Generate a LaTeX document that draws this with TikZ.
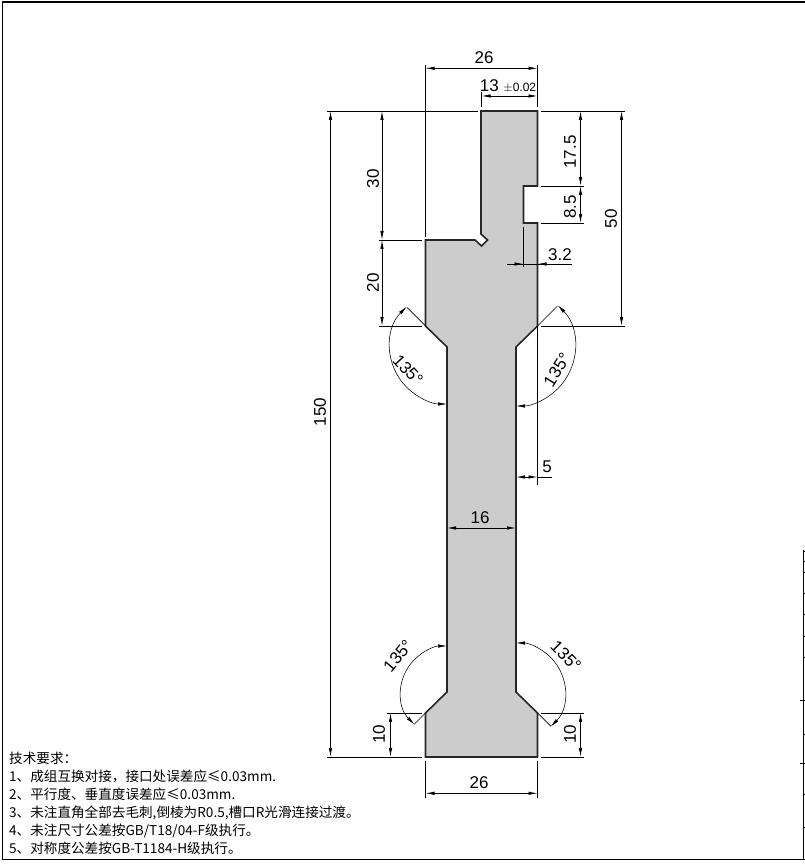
\documentclass[tikz,border=0pt]{standalone}
\usepackage{fontspec}
\setmainfont{Noto Sans CJK SC}
\setsansfont{Liberation Sans}
\usetikzlibrary{arrows.meta}
\tikzset{
  part/.style={draw=black!85, line width=1.6pt, fill=black!20, line join=miter},
  extline/.style={line width=0.7pt},
  dimline/.style={line width=0.7pt, {Latex[length=9pt,width=3.4pt]}-{Latex[length=9pt,width=3.4pt]}},
  dimtip/.style={line width=0.7pt, -{Latex[length=9pt,width=3.4pt]}},
  arcline/.style={line width=0.55pt, {Latex[length=9pt,width=3.4pt]}-{Latex[length=9pt,width=3.4pt]}},
  dimtext/.style={font=\sffamily\fontsize{17}{17}\selectfont, inner sep=0pt},
  notetext/.style={font=\fontsize{13.6}{13.6}\selectfont, inner sep=0pt, anchor=west}
}
\begin{document}
\begin{tikzpicture}[x=1pt,y=1pt]
\useasboundingbox (0,0) rectangle (805,864);
% frame
\coordinate (F1) at (2.5,4.7);
\coordinate (F2) at (2.5,862);
\coordinate (F3) at (805,862);
\coordinate (F4) at (805,4.7);
\draw[line width=1.1pt] (F3) -- (F2) -- (F1) -- (F4);
\draw[line width=1.1pt] (803.7,4.7) -- (803.7,313.5);
\foreach \y in {313,303,292,271,250,228,207,164,130,101,70,37}
  \draw[line width=0.9pt] (803.7,\y) -- (806,\y);
\foreach \y in {164,101}
  \draw[line width=0.9pt] (799.5,\y) -- (803.7,\y);
% part outline
\coordinate (A) at (481,753);
\coordinate (B) at (537.5,753);
\coordinate (C) at (537.5,678);
\coordinate (D) at (523.5,678);
\coordinate (E) at (523.5,641);
\coordinate (G) at (537.5,641);
\coordinate (H) at (537.5,538);
\coordinate (I) at (516,517);
\coordinate (J) at (516,172);
\coordinate (K) at (537.5,151);
\coordinate (L) at (537.5,107);
\coordinate (M) at (425.5,107);
\coordinate (N) at (425.5,151);
\coordinate (O) at (447,172);
\coordinate (P) at (447,517);
\coordinate (Q) at (425.5,538);
\coordinate (R) at (425.5,624);
\coordinate (S) at (475,624);
\coordinate (T) at (481.5,618);
\coordinate (U) at (487.5,624);
\coordinate (V) at (481,630);
\draw[part] (A) -- (B) -- (C) -- (D) -- (E) -- (G) -- (H) -- (I) -- (J) -- (K) -- (L)
  -- (M) -- (N) -- (O) -- (P) -- (Q) -- (R) -- (S) -- (T) -- (U) -- (V) -- cycle;
% extension lines
\draw[extline] (425.5,799) -- (425.5,627);
\draw[extline] (537.5,799) -- (537.5,757);
\draw[extline] (481.5,772) -- (481.5,757);
\draw[extline] (327,753) -- (478,753);
\draw[extline] (541,753) -- (625,753);
\draw[extline] (379,624) -- (422,624);
\draw[extline] (379,538) -- (422,538);
\draw[extline] (541,538) -- (625,538);
\draw[extline] (541,678) -- (584,678);
\draw[extline] (541,641) -- (584,641);
\draw[extline] (327,107) -- (422,107);
\draw[extline] (541,107) -- (584,107);
\draw[extline] (387,151) -- (422,151);
\draw[extline] (541,151) -- (584,151);
\draw[extline] (425.5,103) -- (425.5,66);
\draw[extline] (537.5,103) -- (537.5,66);
\draw[extline] (523.5,637) -- (523.5,597);
\draw[extline] (537.5,538) -- (537.5,379);
% dimensions
\draw[dimline] (425.5,795.7) -- (537.5,795.7);
\node[dimtext] (t26a) at (484,806) {26};
\draw[dimline] (481.5,768) -- (537.5,768);
\node[dimtext] (tol) at (508,778) {13 {\fontsize{12}{12}\selectfont$\pm$0.02}};
\draw[dimline] (330.5,753) -- (330.5,107);
\node[dimtext, rotate=90] (t150) at (320,452) {150};
\draw[dimline] (382,753) -- (382,624);
\node[dimtext, rotate=90] (t30) at (373,685) {30};
\draw[dimline] (382,624) -- (382,538);
\node[dimtext, rotate=90] (t20) at (373,581) {20};
\draw[dimline] (580.5,753) -- (580.5,678);
\node[dimtext, rotate=90] (t175) at (570,712) {17.5};
\draw[dimline] (580.5,678) -- (580.5,641);
\node[dimtext, rotate=90] (t85) at (570,657) {8.5};
\draw[dimline] (621.5,753) -- (621.5,538);
\node[dimtext, rotate=90] (t50) at (611,645) {50};
\draw[extline] (507,600) -- (571.5,600);
\draw[dimtip] (507,600) -- (523.5,600);
\draw[dimtip] (552,600) -- (537.5,600);
\node[dimtext] (t32) at (560,609) {3.2};
\draw[dimline] (516,387) -- (537.5,387);
\draw[extline] (537.5,387) -- (552,387);
\node[dimtext] (t5) at (547,397) {5};
\draw[dimline] (447,336) -- (516,336);
\node[dimtext] (t16) at (480,346) {16};
\draw[dimline] (390.5,151) -- (390.5,107);
\node[dimtext, rotate=90] (t10a) at (379,130) {10};
\draw[dimline] (580.5,151) -- (580.5,107);
\node[dimtext, rotate=90] (t10b) at (570,130) {10};
\draw[dimline] (425.5,70.7) -- (537.5,70.7);
\node[dimtext] (t26b) at (479,81) {26};
% angles
\draw[extline] (Q) -- +(135:26);
\draw[arcline] (P) ++(135:57) arc[start angle=135, end angle=270, radius=57];
\node[dimtext, rotate=-47] (a1) at (408,494) {135°};
\draw[extline] (H) -- +(45:28);
\draw[arcline] (I) ++(45:59) arc[start angle=45, end angle=-90, radius=59];
\node[dimtext, rotate=58] (a2) at (557,494) {135°};
\draw[extline] (N) -- +(225:16);
\draw[arcline] (O) ++(225:46) arc[start angle=225, end angle=90, radius=46];
\node[dimtext, rotate=50] (a3) at (398,208) {135°};
\draw[extline] (K) -- +(-45:19);
\draw[arcline] (J) ++(-45:49) arc[start angle=-45, end angle=90, radius=49];
\node[dimtext, rotate=-45] (a4) at (566,208) {135°};
% notes
\node[notetext] (n0) at (9,105.7) {技术要求^^^^ff1a};
\node[notetext] (n1) at (9,87.3) {1、成组互换对接^^^^ff0c接口处误差应≤0.03mm.};
\node[notetext] (n2) at (9,69.7) {2、平行度、垂直度误差应≤0.03mm.};
\node[notetext] (n3) at (9,51.3) {3、未注直角全部去毛刺,倒棱为R0.5,槽口R光滑连接过渡。};
\node[notetext] (n4) at (9,33.3) {4、未注尺寸公差按GB/T18/04-F级执行。};
\node[notetext] (n5) at (9,15.7) {5、对称度公差按GB-T1184-H级执行。};
\end{tikzpicture}
\end{document}
